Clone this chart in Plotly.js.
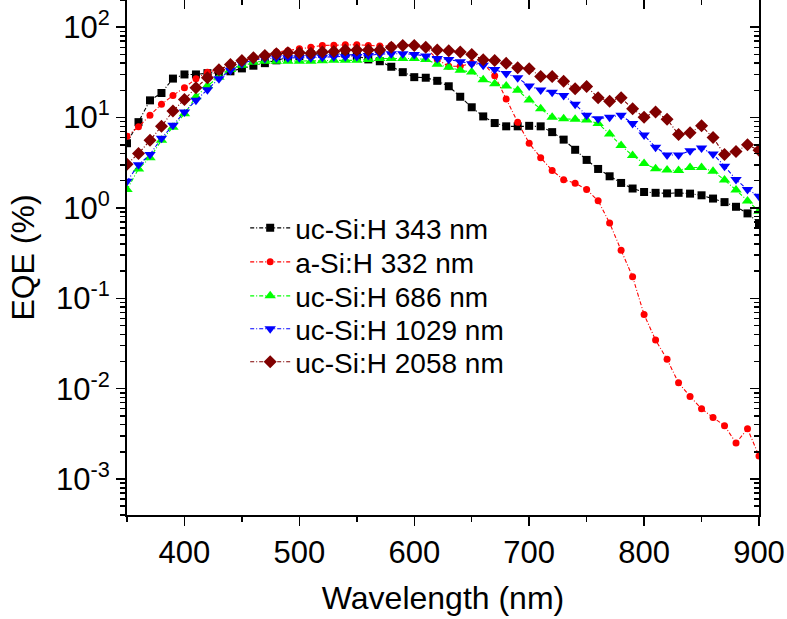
<!DOCTYPE html>
<html>
<head>
<meta charset="utf-8">
<script src="https://cdn.plot.ly/plotly-3.0.1.min.js"></script>
<style>html,body{margin:0;padding:0;background:#fff;}#chart{width:787px;height:619px;}</style>
</head>
<body>
<div id="chart"></div>
<script>
// Wavelength (nm)
const wavelength = [350,360,370,380,390,400,410,420,430,440,450,460,470,480,490,500,510,520,530,540,550,560,570,580,590,600,610,620,630,640,650,660,670,680,690,700,710,720,730,740,750,760,770,780,790,800,810,820,830,840,850,860,870,880,890,900];

// EQE (%) series
const ucSi343 = [5.2,8.9,15.5,18.7,27,30,30,31,32,32.5,35,37.5,40,43,46,48,50,51,52,51,48,44,42,36.5,31.8,28,27.6,25.5,22.2,17,13,10.3,8.7,8.0,8.0,8.1,8.0,6.9,5.7,4.4,3.4,2.7,2.24,1.89,1.64,1.50,1.47,1.45,1.47,1.44,1.38,1.27,1.16,1.03,0.87,0.68];
const aSi332 = [6.2,7.9,10.6,14,17.6,21.4,26.9,31.8,34,38.4,42,46,50,53,55,57.6,60,62.8,63,64,64,62.8,62,62.8,64,64,60,44,37,37,40,40,29,16,8.9,5.2,3.6,2.6,2.05,1.88,1.6,1.2,0.68,0.34,0.173,0.066,0.0345,0.0211,0.0116,0.0082,0.006,0.0048,0.0039,0.0025,0.0036,0.0018];
const ucSi686 = [1.6,2.7,3.6,5.6,7.8,11,17,22.5,28,34,38,41,42,42,42,42,42,42.5,43,43,43,44,45,45,45,45,44,39,36,33.3,31.9,26.2,23.7,22.4,20,15.6,12.5,10.1,9.7,9.6,9.4,8.6,6.6,4.9,3.8,3.1,2.72,2.63,2.6,2.8,2.8,2.55,2.04,1.58,1.19,0.92];
const ucSi1029 = [1.97,3.0,3.9,5.9,8.2,11.5,15.5,20.3,26.9,33.3,39.5,43.6,45,45.5,46,46,46,46.5,47,47,47.5,48.6,50.5,50.8,51,50,48,45,44,41.5,39.5,38,34,30.8,27.5,22.4,20.2,19.1,17.6,14,10.6,9.7,10.1,10.6,8.6,6.4,4.7,3.85,3.85,4.3,4.6,3.95,2.9,2.06,1.6,1.35];
const ucSi2058 = [3.04,4.0,5.6,8.0,11.8,15.8,21.4,27.6,33.8,38.7,42.9,46,48.6,50.8,52,52,51.5,53,54,56,56,56,56,60,62.8,62.8,60,56,55,53,50,43.5,42.9,39.8,35.5,34.7,28.5,28.5,25.3,20.8,22.1,16.6,15.2,16.6,12.5,10.1,11.5,9.6,6.5,6.8,8.1,6.0,3.9,4.2,5.0,4.35];

const seriesNames = ['uc-Si:H 343 nm','a-Si:H 332 nm','uc-Si:H 686 nm','uc-Si:H 1029 nm','uc-Si:H 2058 nm'];

// Axis ticks
const xTickVals = [400,500,600,700,800,900];
const xTickText = ['400','500','600','700','800','900'];
const yTickVals = [0.001,0.01,0.1,1,10,100];
const yTickText = ['10<sup>-3</sup>','10<sup>-2</sup>','10<sup>-1</sup>','10<sup>0</sup>','10<sup>1</sup>','10<sup>2</sup>'];
const yMinorVals = [];
[0.0001,0.001,0.01,0.1,1,10,100].forEach(d => { [2,3,4,5,6,7,8,9].forEach(m => yMinorVals.push(+(d*m).toPrecision(3))); });

const FONT = 'Liberation Sans, Arial, sans-serif';
const colors = ['#000000','#ff0000','#00ff00','#0000ff','#800000'];
const symbols = ['square','circle','triangle-up','triangle-down','diamond'];
const sizes = [8,7,10,10,10];
const dataSets = [ucSi343, aSi332, ucSi686, ucSi1029, ucSi2058];
const legendIds = ['legend','legend2','legend3','legend4','legend5'];
const legendRowY = [0.557, 0.491, 0.425, 0.361, 0.297];

const traces = dataSets.map((ys, i) => ({
  type: 'scatter', mode: 'lines+markers',
  x: wavelength, y: ys, name: seriesNames[i], legend: legendIds[i],
  line: {color: colors[i], width: 1.1, dash: '4px,2px,1px,2px'},
  marker: {color: colors[i], symbol: symbols[i], size: sizes[i], line: {width: 0}}
}));
// empty trace to activate mirrored inner-tick axes
traces.push({type:'scatter', x:[], y:[], xaxis:'x2', yaxis:'y2', showlegend:false, hoverinfo:'skip'});

const xRange = [350, 900];
const yRange = [Math.log10(0.0004), Math.log10(200)];

const layout = {
  width: 787, height: 619,
  margin: {l: 127, r: 28, t: 0, b: 104},
  paper_bgcolor: '#fff', plot_bgcolor: '#fff',
  font: {family: FONT, color: '#000'},
  showlegend: true,
  xaxis: {
    range: xRange, autorange: false,
    tickmode: 'array', tickvals: xTickVals, ticktext: xTickText,
    ticks: 'outside', ticklen: 9, tickwidth: 1.5, tickcolor: '#000',
    minor: {dtick: 50, tick0: 350, ticks: 'outside', ticklen: 5, tickwidth: 1.5, tickcolor: '#000'},
    showline: true, linecolor: '#000', linewidth: 2, mirror: true,
    showgrid: false, zeroline: false,
    tickfont: {family: FONT, size: 31, color: '#000'},
    title: {text: 'Wavelength (nm)', font: {family: FONT, size: 32, color: '#000'}, standoff: 17},
    automargin: false
  },
  yaxis: {
    type: 'log', range: yRange, autorange: false,
    tickmode: 'array', tickvals: yTickVals, ticktext: yTickText,
    ticks: 'outside', ticklen: 9, tickwidth: 1.5, tickcolor: '#000',
    minor: {tickmode: 'array', tickvals: yMinorVals, ticks: 'outside', ticklen: 5, tickwidth: 1.5, tickcolor: '#000'},
    showline: true, linecolor: '#000', linewidth: 2, mirror: true,
    showgrid: false, zeroline: false,
    tickfont: {family: FONT, size: 31, color: '#000'},
    title: {text: 'EQE (%)', font: {family: FONT, size: 32, color: '#000'}, standoff: 12},
    automargin: false
  },
  xaxis2: {
    overlaying: 'x', side: 'top', anchor: 'y', range: xRange, autorange: false,
    tickmode: 'array', tickvals: xTickVals, showticklabels: false,
    ticks: 'inside', ticklen: 9, tickwidth: 1.5, tickcolor: '#000',
    minor: {dtick: 50, tick0: 350, ticks: 'inside', ticklen: 5, tickwidth: 1.5, tickcolor: '#000'},
    showline: false, showgrid: false, zeroline: false
  },
  yaxis2: {
    overlaying: 'y', side: 'right', anchor: 'x', type: 'log', range: yRange, autorange: false,
    tickmode: 'array', tickvals: yTickVals, showticklabels: false,
    ticks: 'inside', ticklen: 9, tickwidth: 1.5, tickcolor: '#000',
    minor: {tickmode: 'array', tickvals: yMinorVals, ticks: 'inside', ticklen: 5, tickwidth: 1.5, tickcolor: '#000'},
    showline: false, showgrid: false, zeroline: false
  }
};

legendIds.forEach((id, i) => {
  layout[id] = {
    x: 0.187, y: legendRowY[i], xanchor: 'left', yanchor: 'middle',
    bgcolor: 'rgba(0,0,0,0)', borderwidth: 0,
    font: {family: FONT, size: 28, color: '#000'},
    itemwidth: 40
  };
});

Plotly.newPlot('chart', traces, layout, {staticPlot: true, displayModeBar: false});
</script>
</body>
</html>
